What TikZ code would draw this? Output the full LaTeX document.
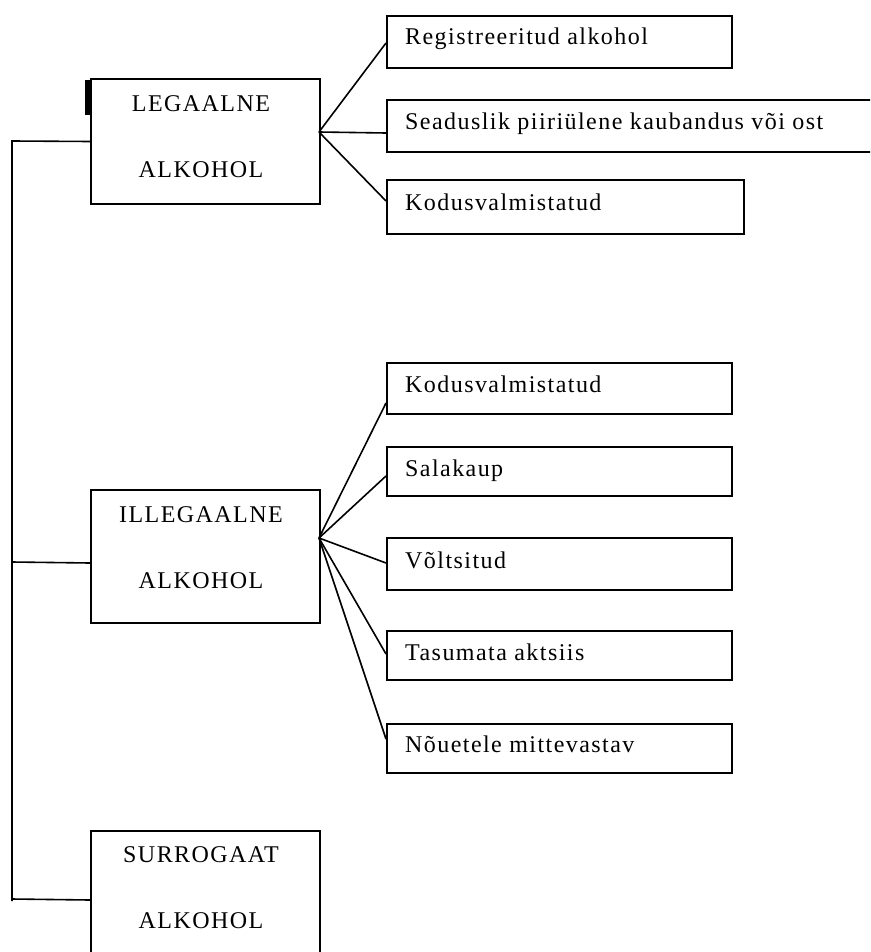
\documentclass[tikz,border=0pt]{standalone}
\usepackage{fontspec}
\setmainfont{Liberation Serif}[LetterSpace=6]
\begin{document}
\begin{tikzpicture}[x=1pt,y=-1pt,
  bigbox/.style={draw, line width=2pt, minimum width=229pt, inner sep=0pt, anchor=north west},
  leaf/.style={draw, line width=2pt, inner sep=0pt, anchor=north west},
  conn/.style={line width=1.6pt},
  lbl/.style={inner sep=0pt, font=\fontsize{24}{28}\selectfont}]
\useasboundingbox (0,0) rectangle (870,952);
\clip (0,0) rectangle (870,952);
% main boxes
\node[bigbox, minimum height=125pt] (leg) at (90,78) {};
\node[bigbox, minimum height=133pt] (ill) at (90,489) {};
\node[bigbox, minimum height=138pt] (sur) at (90,830) {};
\fill (85,80) rectangle (89.5,115);
\node[lbl, anchor=base] (legA) at (201,112) {LEGAALNE};
\node[lbl, anchor=base] (legB) at (201,178) {ALKOHOL};
\node[lbl, anchor=base] (illA) at (201,522) {ILLEGAALNE};
\node[lbl, anchor=base] (illB) at (201,588) {ALKOHOL};
\node[lbl, anchor=base] (surA) at (201,862) {SURROGAAT};
\node[lbl, anchor=base] (surB) at (201,928) {ALKOHOL};
% legal leaves
\node[leaf, minimum width=345pt, minimum height=52pt] (r1) at (386,15) {};
\node[leaf, minimum width=520pt, minimum height=52pt] (r2) at (386,99) {};
\node[leaf, minimum width=357pt, minimum height=54pt] (r3) at (386,179) {};
\node[lbl, anchor=base west] (r1t) at (405,45) {Registreeritud alkohol};
\node[lbl, anchor=base west] (r2t) at (405,130) {Seaduslik piiriülene kaubandus või ost};
\node[lbl, anchor=base west] (r3t) at (405,210) {Kodusvalmistatud};
% illegal leaves
\node[leaf, minimum width=345pt, minimum height=51pt] (a) at (386,362) {};
\node[leaf, minimum width=345pt, minimum height=49pt] (b) at (386,446) {};
\node[leaf, minimum width=345pt, minimum height=52pt] (c) at (386,537) {};
\node[leaf, minimum width=345pt, minimum height=49pt] (d) at (386,630) {};
\node[leaf, minimum width=345pt, minimum height=49pt] (e) at (386,723) {};
\node[lbl, anchor=base west] (at) at (405,392) {Kodusvalmistatud};
\node[lbl, anchor=base west] (bt) at (405,476) {Salakaup};
\node[lbl, anchor=base west] (ct) at (405,568) {Võltsitud};
\node[lbl, anchor=base west] (dt) at (405,660) {Tasumata aktsiis};
\node[lbl, anchor=base west] (et) at (405,752) {Nõuetele mittevastav};
% fans
\coordinate (lf) at (319,132);
\coordinate (if) at (319,538);
\draw[conn] (lf) -- ([yshift=-1pt]r1.west);
\draw[conn] (lf) -- ([yshift=-7pt]r2.west);
\draw[conn] (lf) -- ([yshift=6pt]r3.west);
\draw[conn] (if) -- ([yshift=-14.5pt]a.west);
\draw[conn] (if) -- ([yshift=-4.5pt]b.west);
\draw[conn] (if) -- ([yshift=1pt]c.west);
\draw[conn] (if) -- ([yshift=1.5pt]d.west);
\draw[conn] (if) -- ([yshift=9.5pt]e.west);
% trunk
\coordinate (tt) at (12,141);
\coordinate (tm) at (12,562);
\coordinate (tb) at (12,901);
\draw[conn] (leg.west) -- (tt) -- (tb);
\draw[conn] ([yshift=-6.5pt]ill.west) -- (tm);
\draw[conn] (sur.west) -- (12,899);
\end{tikzpicture}
\end{document}
